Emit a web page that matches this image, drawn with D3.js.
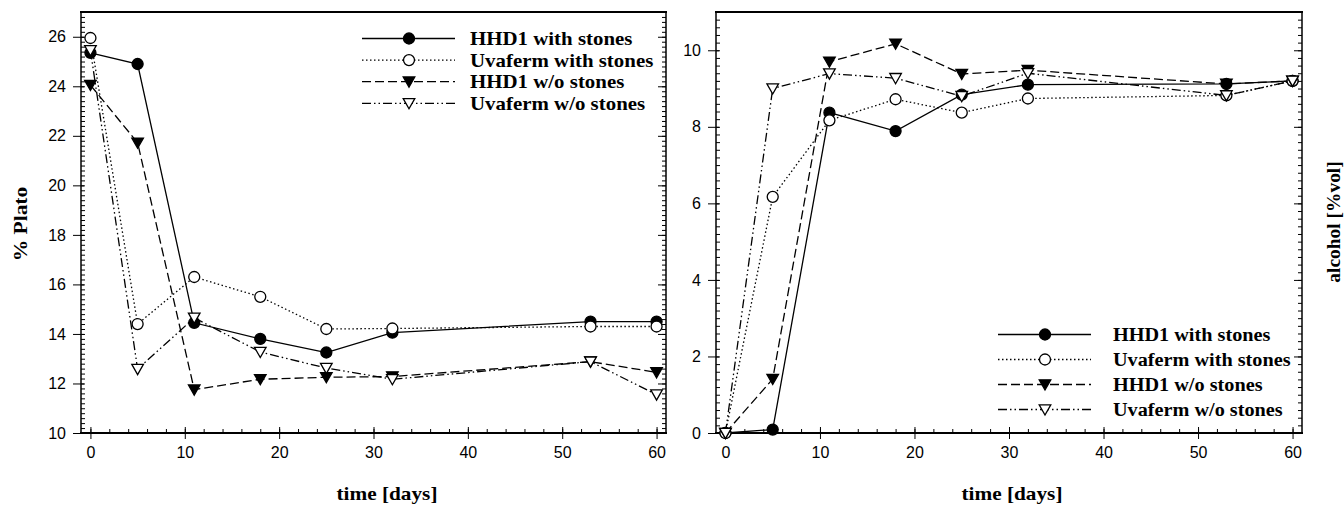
<!DOCTYPE html>
<html>
<head>
<meta charset="utf-8">
<script src="https://cdn.jsdelivr.net/npm/d3@7"></script>
<style>
  body { margin: 0; background: #fff; }
  svg { display: block; }
</style>
</head>
<body>
<div class="chart"></div>
<script>
// data ==================================== //

var days = [0, 5, 11, 18, 25, 32, 53, 60];
var seriesNames = ["HHD1 with stones", "Uvaferm with stones", "HHD1 w/o stones", "Uvaferm w/o stones"];

// left panel, % Plato
var platoHhd1Stones = [25.35, 24.9, 14.45, 13.8, 13.25, 14.05, 14.5, 14.5];
var platoUvafermStones = [25.95, 14.4, 16.3, 15.5, 14.2, 14.22, 14.3, 14.3];
var platoHhd1NoStones = [24.05, 21.72, 11.75, 12.17, 12.25, 12.28, 12.88, 12.45];
var platoUvafermNoStones = [25.45, 12.58, 14.65, 13.27, 12.62, 12.17, 12.88, 11.55];

// right panel, alcohol [%vol]
var alcHhd1Stones = [0, 0.09, 8.37, 7.89, 8.84, 9.1, 9.12, 9.2];
var alcUvafermStones = [0, 6.17, 8.17, 8.72, 8.37, 8.74, 8.82, 9.2];
var alcHhd1NoStones = [0, 1.41, 9.7, 10.17, 9.38, 9.48, 9.12, 9.2];
var alcUvafermNoStones = [0, 9.0, 9.39, 9.27, 8.8, 9.4, 8.82, 9.2];

var xTicks = [0, 10, 20, 30, 40, 50, 60];
var platoTicks = [10, 12, 14, 16, 18, 20, 22, 24, 26];
var alcoholTicks = [0, 2, 4, 6, 8, 10];

// line + marker style per series
var styles = [
  { dash: null, marker: "circle", fill: "#000" },
  { dash: "1.5,2.5", marker: "circle", fill: "#fff" },
  { dash: "9,4", marker: "triangle", fill: "#000" },
  { dash: "9,3,1.5,3,1.5,3", marker: "triangle", fill: "#fff" }
];

var svg = d3
  .select(".chart")
  .append("svg")
  .attr("width", 1344)
  .attr("height", 505);

function serifBold(sel) {
  return sel
    .attr("font-family", "'Liberation Serif', 'Times New Roman', serif")
    .attr("font-weight", "bold")
    .attr("fill", "#000");
}

function drawMarker(g, type, fill, cx, cy) {
  if (type == "circle") {
    g.append("circle")
      .attr("cx", cx)
      .attr("cy", cy)
      .attr("r", 5.5)
      .attr("fill", fill)
      .attr("stroke", "#000")
      .attr("stroke-width", 1.3);
  } else {
    g.append("path")
      .attr("d", "M-5.8,-4.7L5.8,-4.7L0,5.5Z")
      .attr("transform", "translate(" + cx + "," + cy + ")")
      .attr("fill", fill)
      .attr("stroke", "#000")
      .attr("stroke-width", 1.3);
  }
}

function drawPanel(cfg) {
  var x = d3.scaleLinear().domain([-1, 61]).range([cfg.left, cfg.right]);
  var y = d3.scaleLinear().domain(cfg.yDomain).range([cfg.bottom, cfg.top]);

  var g = svg.append("g");

  var yMinor = d3.range(0, Math.round((cfg.yDomain[1] - cfg.yDomain[0]) / 0.2) + 1).map(function (i) {
    return cfg.yDomain[0] + i * 0.2;
  });
  var xMinor = d3.range(0, 61, 2);

  function clean(a) {
    a.select(".domain").remove();
    a.selectAll(".tick line").attr("stroke", "#000").attr("stroke-width", 1);
    a.selectAll(".tick text")
      .attr("fill", "#000")
      .attr("font-family", "'Liberation Sans', Arial, sans-serif")
      .attr("font-size", "16px");
  }

  // bottom axis
  g.append("g")
    .attr("transform", "translate(0," + cfg.bottom + ")")
    .call(d3.axisBottom(x).tickValues(xTicks).tickSize(6).tickPadding(8))
    .call(clean);
  g.append("g")
    .attr("transform", "translate(0," + cfg.bottom + ")")
    .call(d3.axisTop(x).tickValues(xTicks).tickSize(6).tickFormat(""))
    .call(clean);
  g.append("g")
    .attr("transform", "translate(0," + cfg.bottom + ")")
    .call(d3.axisTop(x).tickValues(xMinor).tickSize(4).tickFormat(""))
    .call(clean);

  // left axis
  g.append("g")
    .attr("transform", "translate(" + cfg.left + ",0)")
    .call(d3.axisLeft(y).tickValues(cfg.yTicks).tickSize(8).tickPadding(7))
    .call(clean);
  g.append("g")
    .attr("transform", "translate(" + cfg.left + ",0)")
    .call(d3.axisRight(y).tickValues(cfg.yTicks).tickSize(3).tickFormat(""))
    .call(clean);
  g.append("g")
    .attr("transform", "translate(" + cfg.left + ",0)")
    .call(d3.axisRight(y).tickValues(yMinor).tickSize(4).tickFormat(""))
    .call(clean);

  // right side mirror ticks
  g.append("g")
    .attr("transform", "translate(" + cfg.right + ",0)")
    .call(d3.axisLeft(y).tickValues(cfg.yTicks).tickSize(8).tickFormat(""))
    .call(clean);
  g.append("g")
    .attr("transform", "translate(" + cfg.right + ",0)")
    .call(d3.axisLeft(y).tickValues(yMinor).tickSize(4).tickFormat(""))
    .call(clean);

  // frame
  g.append("line")
    .attr("x1", cfg.left - 1).attr("x2", cfg.right + 1)
    .attr("y1", cfg.top).attr("y2", cfg.top)
    .attr("stroke", "#000").attr("stroke-width", 2);
  g.append("line")
    .attr("x1", cfg.left - 1).attr("x2", cfg.right + 1)
    .attr("y1", cfg.bottom).attr("y2", cfg.bottom)
    .attr("stroke", "#000").attr("stroke-width", 2);
  g.append("line")
    .attr("x1", cfg.left).attr("x2", cfg.left)
    .attr("y1", cfg.top).attr("y2", cfg.bottom)
    .attr("stroke", "#000").attr("stroke-width", 1.5);
  g.append("line")
    .attr("x1", cfg.right).attr("x2", cfg.right)
    .attr("y1", cfg.top).attr("y2", cfg.bottom)
    .attr("stroke", "#000").attr("stroke-width", 1.5);

  // lines
  var line = d3
    .line()
    .x(function (d) {
      return x(d[0]);
    })
    .y(function (d) {
      return y(d[1]);
    });

  cfg.series.forEach(function (vals, i) {
    var pts = days.map(function (d, j) {
      return [d, vals[j]];
    });
    g.append("path")
      .attr("d", line(pts))
      .attr("fill", "none")
      .attr("stroke", "#000")
      .attr("stroke-width", 1.3)
      .attr("stroke-dasharray", styles[i].dash);
  });

  // markers
  cfg.series.forEach(function (vals, i) {
    days.forEach(function (d, j) {
      drawMarker(g, styles[i].marker, styles[i].fill, x(d), y(vals[j]));
    });
  });

  // legend
  var lg = g.append("g");
  seriesNames.forEach(function (name, i) {
    var ly = cfg.legendY + i * cfg.legendStep;
    lg.append("line")
      .attr("x1", cfg.legendX)
      .attr("x2", cfg.legendX + 93)
      .attr("y1", ly)
      .attr("y2", ly)
      .attr("stroke", "#000")
      .attr("stroke-width", 1.3)
      .attr("stroke-dasharray", styles[i].dash);
    drawMarker(lg, styles[i].marker, styles[i].fill, cfg.legendX + 47, ly);
    lg.append("text")
      .attr("transform", "translate(" + cfg.legendTextX + "," + ly + ") scale(" + cfg.legendScale + ",1)")
      .attr("dy", "0.35em")
      .attr("font-size", "18.5px")
      .text(name)
      .call(serifBold);
  });

  // axis titles
  g.append("text")
    .attr("transform", "translate(" + cfg.xTitleX + ",500) scale(1.15,1)")
    .attr("text-anchor", "middle")
    .attr("font-size", "18.5px")
    .text("time [days]")
    .call(serifBold);

  g.append("text")
    .attr("transform", "translate(" + cfg.yTitleX + "," + cfg.yTitleY + ") rotate(-90) scale(" + cfg.yTitleScale + ",1)")
    .attr("text-anchor", "middle")
    .attr("font-size", cfg.yTitleSize)
    .text(cfg.yTitle)
    .call(serifBold);
}

drawPanel({
  left: 81,
  right: 666,
  top: 12,
  bottom: 433,
  yDomain: [10, 27],
  yTicks: platoTicks,
  series: [platoHhd1Stones, platoUvafermStones, platoHhd1NoStones, platoUvafermNoStones],
  legendX: 362,
  legendTextX: 470,
  legendScale: 1.13,
  legendY: 38.5,
  legendStep: 21.6,
  xTitleX: 387,
  yTitle: "% Plato",
  yTitleX: 27,
  yTitleY: 224,
  yTitleSize: "18.5px",
  yTitleScale: 1.16
});

drawPanel({
  left: 716,
  right: 1302,
  top: 12,
  bottom: 433,
  yDomain: [0, 11],
  yTicks: alcoholTicks,
  series: [alcHhd1Stones, alcUvafermStones, alcHhd1NoStones, alcUvafermNoStones],
  legendX: 998,
  legendTextX: 1113,
  legendScale: 1.095,
  legendY: 334.5,
  legendStep: 25,
  xTitleX: 1012,
  yTitle: "alcohol [%vol]",
  yTitleX: 1340,
  yTitleY: 222,
  yTitleSize: "18px",
  yTitleScale: 1.08
});
</script>
</body>
</html>
